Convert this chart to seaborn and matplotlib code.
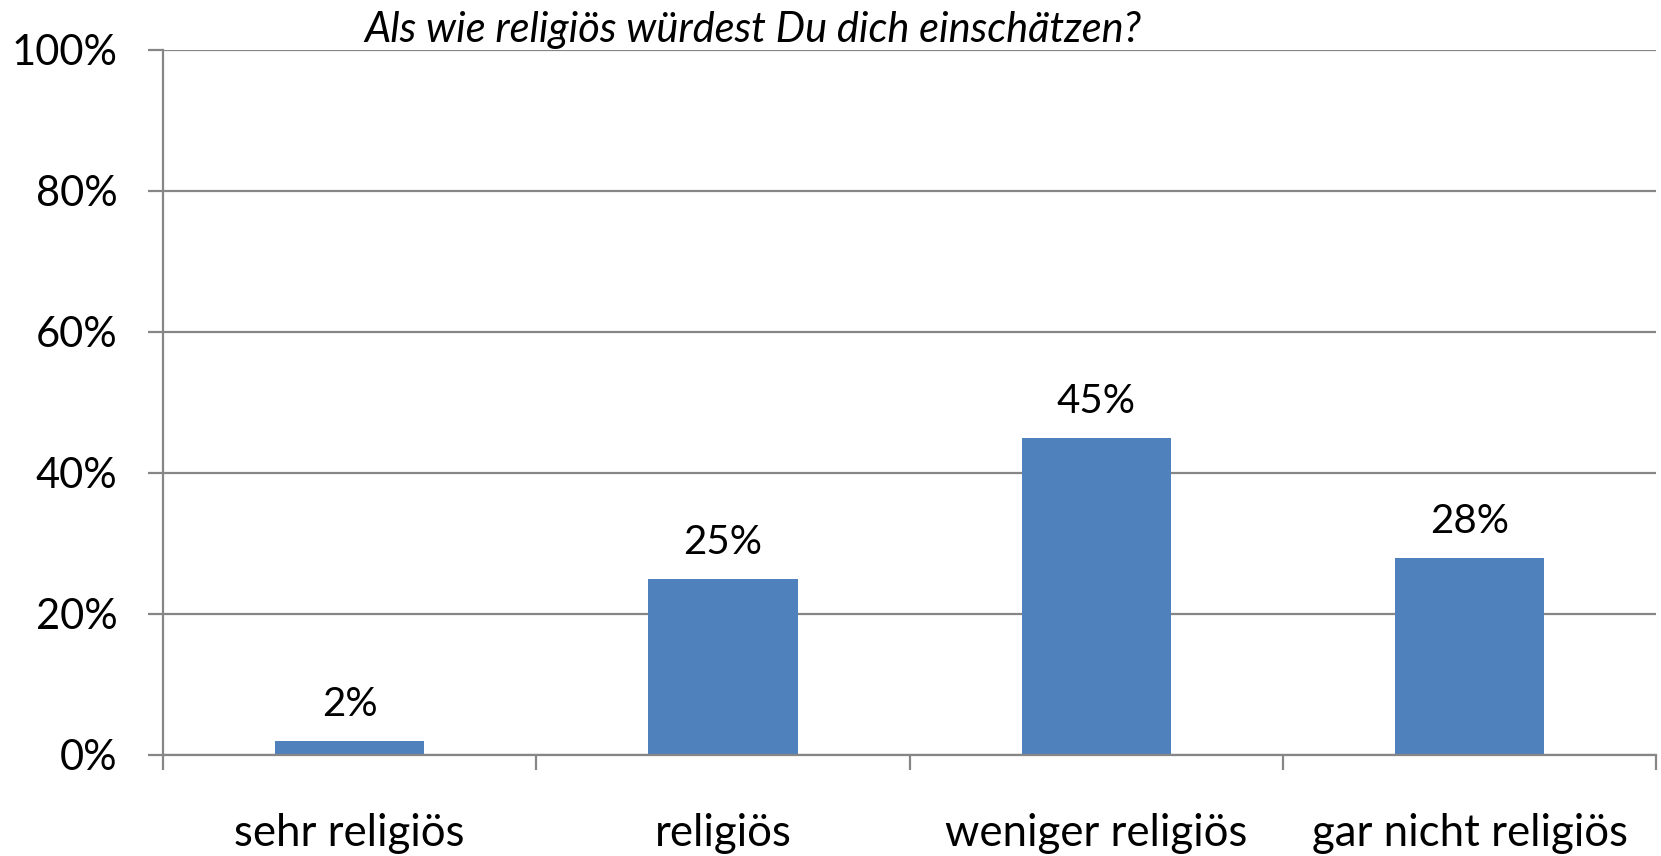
import matplotlib
matplotlib.use('Agg')
import matplotlib.pyplot as plt
import seaborn as sns
import pandas as pd
from matplotlib.ticker import FuncFormatter, FixedLocator

categories = ['sehr religiös', 'religiös', 'weniger religiös', 'gar nicht religiös']
values = [2, 25, 45, 28]
title = 'Als wie religiös würdest Du dich einschätzen?'

df = pd.DataFrame({'Kategorie': categories, 'Anteil': values})

sns.set_style('white')
plt.rcParams['font.family'] = ['Lato', 'DejaVu Sans']

fig = plt.figure(figsize=(16.61, 8.56), dpi=100)
ax = fig.add_axes([0.0981, 0.118, 0.899, 0.8236])

sns.barplot(data=df, x='Kategorie', y='Anteil', color='#4F81BD', saturation=1,
            width=0.4, linewidth=0, ax=ax)

grey = '#868686'
ax.set_xlim(-0.5, 3.5)
ax.set_ylim(0, 100)
ax.set_yticks([0, 20, 40, 60, 80, 100])
ax.yaxis.set_major_formatter(FuncFormatter(lambda v, p: f'{v:.0f}%'))
ax.yaxis.grid(True, color=grey, linewidth=1.6)
ax.set_axisbelow(True)

for s in ['top', 'right']:
    ax.spines[s].set_visible(False)
for s in ['left', 'bottom']:
    ax.spines[s].set_color(grey)
    ax.spines[s].set_linewidth(1.6)

ax.tick_params(axis='y', length=10.8, width=1.6, color=grey, pad=22,
               labelsize=30, labelcolor='black', left=True)
ax.tick_params(axis='x', which='major', length=0, pad=42, labelsize=31.5,
               labelcolor='black')
ax.xaxis.set_minor_locator(FixedLocator([-0.5, 0.5, 1.5, 2.5, 3.5]))
ax.tick_params(axis='x', which='minor', length=10.8, width=1.6, color=grey,
               bottom=True)

ax.set_xlabel('')
ax.set_ylabel('')

for i, v in enumerate(values):
    ax.annotate(f'{v}%', (i, v), xytext=(0, 13), textcoords='offset points',
                ha='center', va='bottom', fontsize=29, color='black')

fig.text(0.453, 0.965, title, ha='center', va='center', fontsize=30,
         style='italic', color='black')

fig.savefig('out.png', dpi=100, facecolor='white')
